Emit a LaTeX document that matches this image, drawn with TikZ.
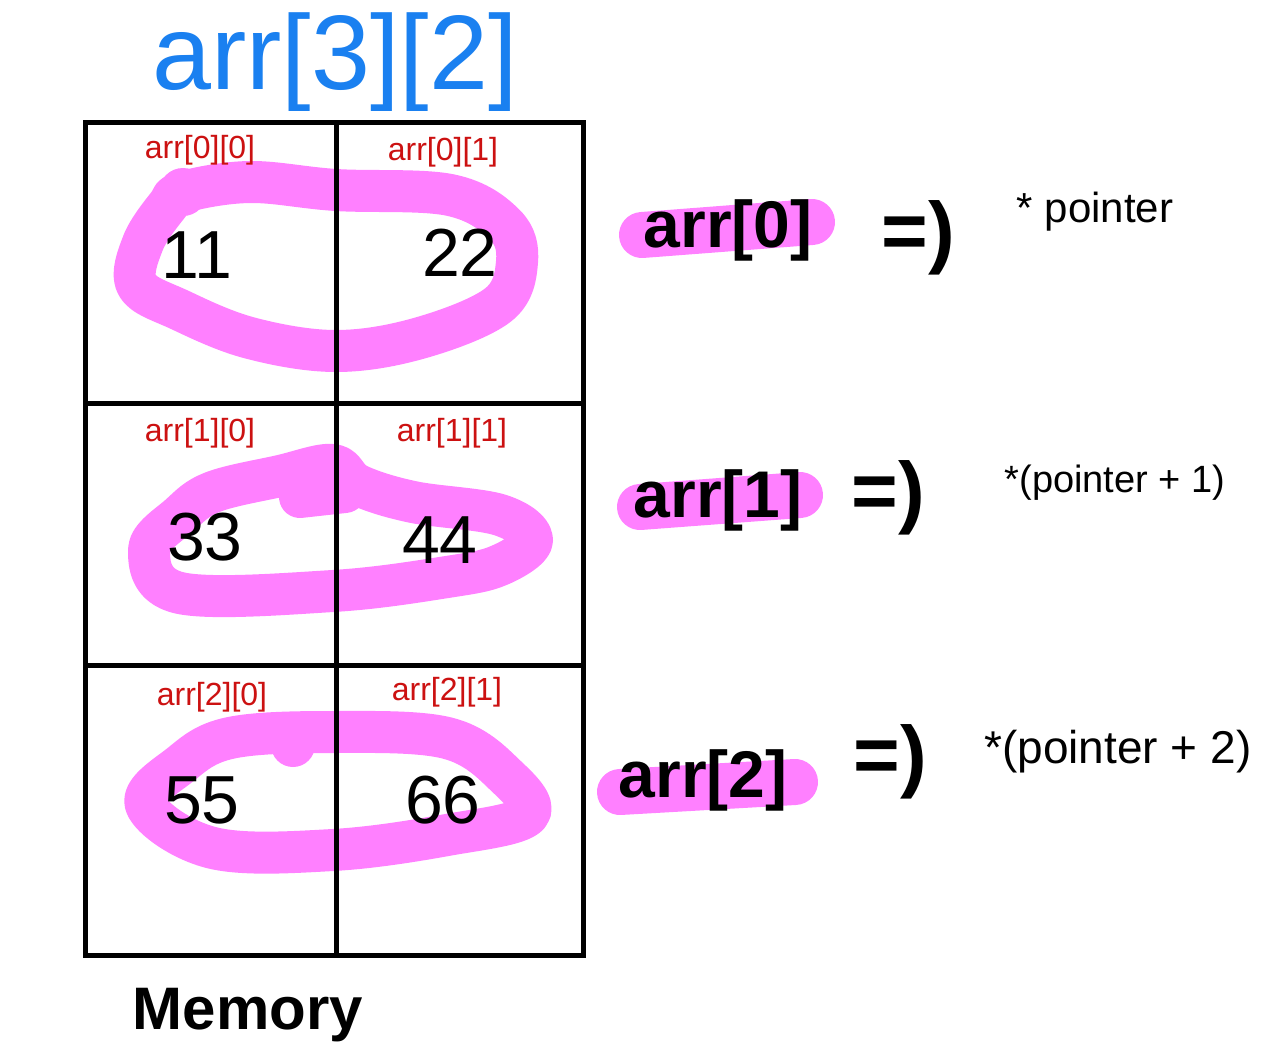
\documentclass[tikz,border=0pt]{standalone}
\usepackage{fontspec}
\setmainfont{Liberation Sans}
\definecolor{pinkhl}{HTML}{FF80FF}
\definecolor{titleblue}{HTML}{1A80F0}
\definecolor{labred}{HTML}{CC1111}
\tikzset{
  loopline/.style={pinkhl, line width=42pt, line cap=round, line join=round},
  hlbar/.style={pinkhl, line width=46pt, line cap=round},
  gridline/.style={black, line width=5pt},
  cell/.style={text=labred, font=\fontsize{32}{32}\selectfont, inner sep=0pt},
  num/.style={text=black, font=\fontsize{68}{68}\selectfont, inner sep=0pt},
  rowname/.style={text=black, font=\fontsize{66}{66}\selectfont\bfseries, inner sep=0pt},
  imply/.style={text=black, font=\fontsize{80}{80}\selectfont\bfseries, inner sep=0pt},
  ptr/.style={text=black, font=\fontsize{42}{42}\selectfont, inner sep=0pt}
}
\begin{document}
\begin{tikzpicture}[x=1pt,y=-1pt]
\useasboundingbox[fill=white] (0,0) rectangle (1280,1063);

% pink loops
\draw[loopline] plot[smooth cycle, tension=0.6] coordinates {
  (183,192) (250,182) (336,190) (450,195) (505,225) (517,262) (498,305)
  (420,338) (336,351) (250,338) (180,310) (137,285) (143,243) (168,205)};
\fill[pinkhl] (183,192) circle (24pt);

\draw[loopline] plot[smooth cycle, tension=0.6] coordinates {
  (333,465) (358,485) (413,502) (500,515) (532,540) (500,565) (447,577)
  (333,591) (180,593) (149,550) (180,515) (213,492) (280,476)};
\draw[loopline] (300,497) -- (345,492);

\draw[loopline] plot[smooth cycle, tension=0.6] coordinates {
  (230,738) (333,732) (447,738) (505,775) (528,815) (447,835) (333,850)
  (213,848) (146,805) (180,765)};
\fill[pinkhl] (293,745) circle (22pt);

% highlight bars
\draw[hlbar] (642,235) -- (812,222);
\draw[hlbar] (640,507) -- (800,495);
\draw[hlbar] (620,792) -- (795,782);

% grid
\draw[gridline] (85,122) rectangle (583,955);
\coordinate (vt) at (336,122);
\coordinate (vb) at (336,955);
\coordinate (h1l) at (85,403);
\coordinate (h1r) at (583,403);
\coordinate (h2l) at (85,665);
\coordinate (h2r) at (583,665);
\draw[gridline] (vt) -- (vb);
\draw[gridline] (h1l) -- (h1r);
\draw[gridline] (h2l) -- (h2r);

% title
\node[text=titleblue, font=\fontsize{106}{106}\selectfont, inner sep=0pt] (title) at (335,62) {arr[3][2]};

% cell labels
\node[cell] (l00) at (200,150) {arr[0][0]};
\node[cell] (l01) at (443,152) {arr[0][1]};
\node[cell] (l10) at (200,433) {arr[1][0]};
\node[cell] (l11) at (452,433) {arr[1][1]};
\node[cell] (l20) at (212,697) {arr[2][0]};
\node[cell] (l21) at (447,692) {arr[2][1]};

% values
\node[num] (v00) at (197,255) {11};
\node[num] (v01) at (460,253) {22};
\node[num] (v10) at (205,537) {33};
\node[num] (v11) at (440,540) {44};
\node[num] (v20) at (202,800) {55};
\node[num] (v21) at (443,800) {66};

% rows
\node[rowname] (r0) at (728,230) {arr[0]};
\node[rowname] (r1) at (718,500) {arr[1]};
\node[rowname] (r2) at (703,780) {arr[2]};

\node[imply] (i0) at (918,238) {=)};
\node[imply] (i1) at (888,498) {=)};
\node[imply] (i2) at (890,762) {=)};

\node[ptr] (p0) at (1095,212) {* pointer};
\node[ptr, font=\fontsize{38}{38}\selectfont] (p1) at (1115,483) {*(pointer + 1)};
\node[ptr, font=\fontsize{46}{46}\selectfont] (p2) at (1118,752) {*(pointer + 2)};

\node[text=black, font=\fontsize{60}{60}\selectfont\bfseries, inner sep=0pt] (mem) at (248,1015) {Memory};
\end{tikzpicture}
\end{document}
